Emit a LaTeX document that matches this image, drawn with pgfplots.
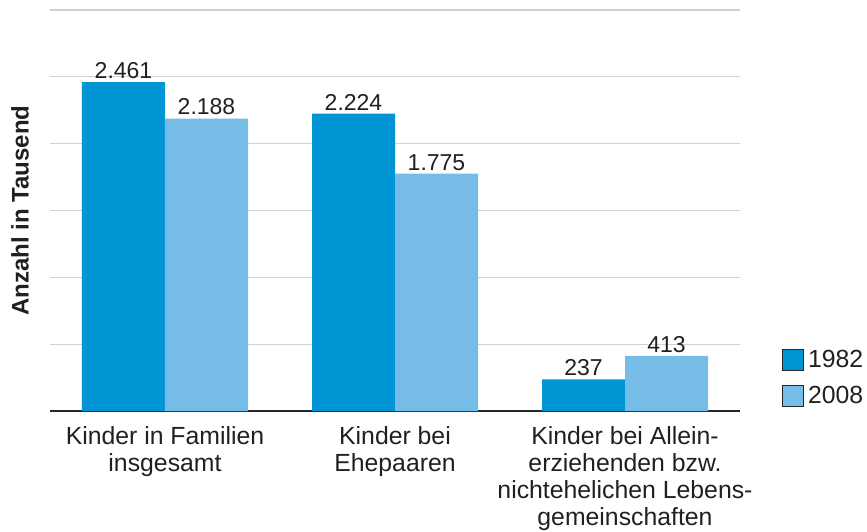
\documentclass[border=0pt]{standalone}
\usepackage{fontspec}
\setmainfont{Liberation Sans}
\usepackage{pgfplots}
\pgfplotsset{compat=1.18}
\definecolor{bluea}{RGB}{0,150,214}
\definecolor{blueb}{RGB}{117,189,230}
\definecolor{txt}{RGB}{35,31,32}
\begin{document}
\begin{tikzpicture}
\useasboundingbox (-25pt,-60pt) rectangle (408.5pt,205.5pt);
\begin{axis}[
  at={(0,0)}, anchor=south west,
  scale only axis, width=345pt, height=200.5pt,
  xmin=-0.5, xmax=2.5, ymin=0, ymax=3000,
  ybar=0pt, bar width=41.5pt,
  axis x line=bottom, axis y line=left,
  x axis line style={-, line width=1.2pt, draw=black!85},
  y axis line style={draw=none},
  ytick={0,500,...,3000}, yticklabels={}, ytick style={draw=none},
  ymajorgrids, grid style={draw=black!18, line width=0.6pt},
  xtick={0,1,2}, xtick style={draw=none},
  xticklabels={{Kinder in Familien\\insgesamt},{Kinder bei\\Ehepaaren},{Kinder bei Allein-\\erziehenden bzw.\\nichtehelichen Lebens-\\gemeinschaften}},
  xticklabel style={align=center, text=txt, font=\fontsize{12.4}{13.6}\selectfont, yshift=-2pt},
  every axis y label/.style={at={(axis description cs:0,0.5)}, xshift=-15pt, rotate=90, anchor=center,
    font=\bfseries\fontsize{12}{14}\selectfont, text=txt},
  ylabel={Anzahl in Tausend},
  nodes near coords,
  every node near coord/.append style={font=\fontsize{11.5}{13}\selectfont, text=txt, inner sep=1.5pt},
  /pgf/number format/1000 sep={.},
  /pgf/number format/assume math mode=true,
  legend style={at={(axis description cs:1.06,0)}, anchor=south west, draw=none, fill=none,
    font=\fontsize{12.4}{14}\selectfont, text=txt, inner sep=0pt, row sep=4pt},
  legend cell align=left,
  legend image code/.code={\draw[#1, draw=black!85, line width=0.6pt] (0pt,-5pt) rectangle (10.5pt,5.5pt);},
]
\addplot[fill=bluea, draw=none] coordinates {(0,2461) (1,2224) (2,237)};
\addlegendentry{1982}
\addplot[fill=blueb, draw=none] coordinates {(0,2188) (1,1775) (2,413)};
\addlegendentry{2008}
\end{axis}
\end{tikzpicture}
\end{document}
